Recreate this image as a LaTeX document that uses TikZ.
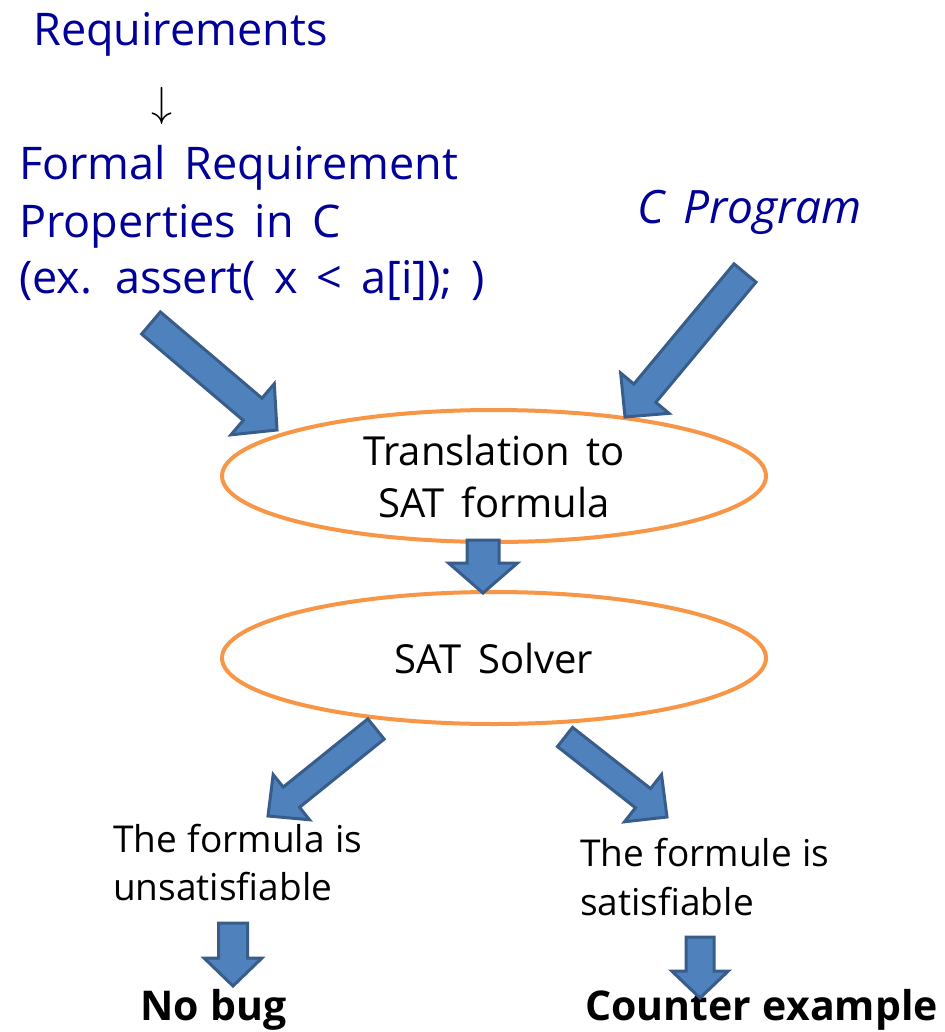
\documentclass[tikz,border=0pt]{standalone}
\usepackage{graphicx}
\usepackage{fontspec}
\setmainfont{Open Sans}[WordSpace=1.6]
\newfontfamily\notefont{Open Sans}[WordSpace=1.1]
\usetikzlibrary{shapes.geometric,calc}

\definecolor{reqblue}{RGB}{0,0,153}
\definecolor{ovalorange}{RGB}{247,150,70}
\definecolor{arrowfill}{RGB}{79,129,189}
\definecolor{arrowedge}{RGB}{56,93,138}

% Block arrow: #1 tail centre, #2 tip, #3 half shaft width, #4 half head width, #5 head length
\newcommand\blockarrow[5]{%
  \coordinate (ba-c) at ($(#2)!#5!(#1)$);
  \draw[barrow] ($(#1)!#3!90:(#2)$) -- ($(ba-c)!#3!90:(#2)$) -- ($(ba-c)!#4!90:(#2)$)
    -- (#2) -- ($(ba-c)!#4!-90:(#2)$) -- ($(ba-c)!#3!-90:(#2)$) -- ($(#1)!#3!-90:(#2)$) -- cycle;}

\tikzset{
  req/.style={text=reqblue, font=\fontsize{45}{54}\selectfont, anchor=base west, inner sep=0pt},
  oval/.style={ellipse, draw=ovalorange, line width=4pt, minimum width=544pt, minimum height=132pt,
    align=center, font=\fontsize{40}{52}\selectfont, inner sep=0pt},
  note/.style={font=\notefont\fontsize{37}{48}\selectfont, anchor=base west, inner sep=0pt},
  verdict/.style={font=\notefont\bfseries\fontsize{41}{49}\selectfont, anchor=base west, inner sep=0pt},
  barrow/.style={fill=arrowfill, draw=arrowedge, line width=3pt, line join=miter},
}

\begin{document}
\begin{tikzpicture}[x=1pt, y=-1pt]
  \fill[white] (0,0) rectangle (944,1032);
  \useasboundingbox (0,0) rectangle (944,1032);

  % requirement side
  \node[req] (req) at (33,46) {Requirements};
  \node[inner sep=0pt] (refine) at (162,106) {\scalebox{4.2}{$\downarrow$}};
  \node[req] (formal1) at (19,180) {Formal Requirement};
  \node[req] (formal2) at (19,237) {Properties in C};
  \node[req] (formal3) at (19,293) {(ex. assert( x < a[i]); )};

  % program side
  \node[req, font=\itshape\fontsize{46}{54}\selectfont] (prog) at (637,223) {C Program};

  % processing stages
  \node[oval] (trans) at (494,476) {Translation to\\SAT formula};
  \node[oval] (solver) at (494,658) {SAT Solver};

  % outcomes
  \node[note] (unsat1) at (113,852) {The formula is};
  \node[note] (unsat2) at (113,900) {unsatisfiable};
  \node[note] (sat1) at (580,866) {The formule is};
  \node[note] (sat2) at (580,915) {satisfiable};
  \node[verdict] (nobug) at (140,1020) {No bug};
  \node[verdict] (cex) at (585,1020) {Counter example};

  % arrow end points
  \coordinate (a1t) at (151,323);  \coordinate (a1h) at (277,430);
  \coordinate (a2t) at (745,273);  \coordinate (a2h) at (625,417);
  \coordinate (a3t) at (483,540);  \coordinate (a3h) at (483,593);
  \coordinate (a4t) at (376,729);  \coordinate (a4h) at (268,816);
  \coordinate (a5t) at (565,737);  \coordinate (a5h) at (667,817);
  \coordinate (a6t) at (233,923);  \coordinate (a6h) at (233,986);
  \coordinate (a7t) at (700,937);  \coordinate (a7h) at (700,998);

  \blockarrow{a1t}{a1h}{14.5pt}{33.5pt}{32pt}
  \blockarrow{a2t}{a2h}{14.3pt}{31.5pt}{31pt}
  \blockarrow{a3t}{a3h}{16pt}{34.5pt}{30pt}
  \blockarrow{a4t}{a4h}{13pt}{29pt}{30pt}
  \blockarrow{a5t}{a5h}{12.2pt}{30pt}{30.5pt}
  \blockarrow{a6t}{a6h}{14.5pt}{29pt}{28pt}
  \blockarrow{a7t}{a7h}{14pt}{28.3pt}{27pt}
\end{tikzpicture}
\end{document}
